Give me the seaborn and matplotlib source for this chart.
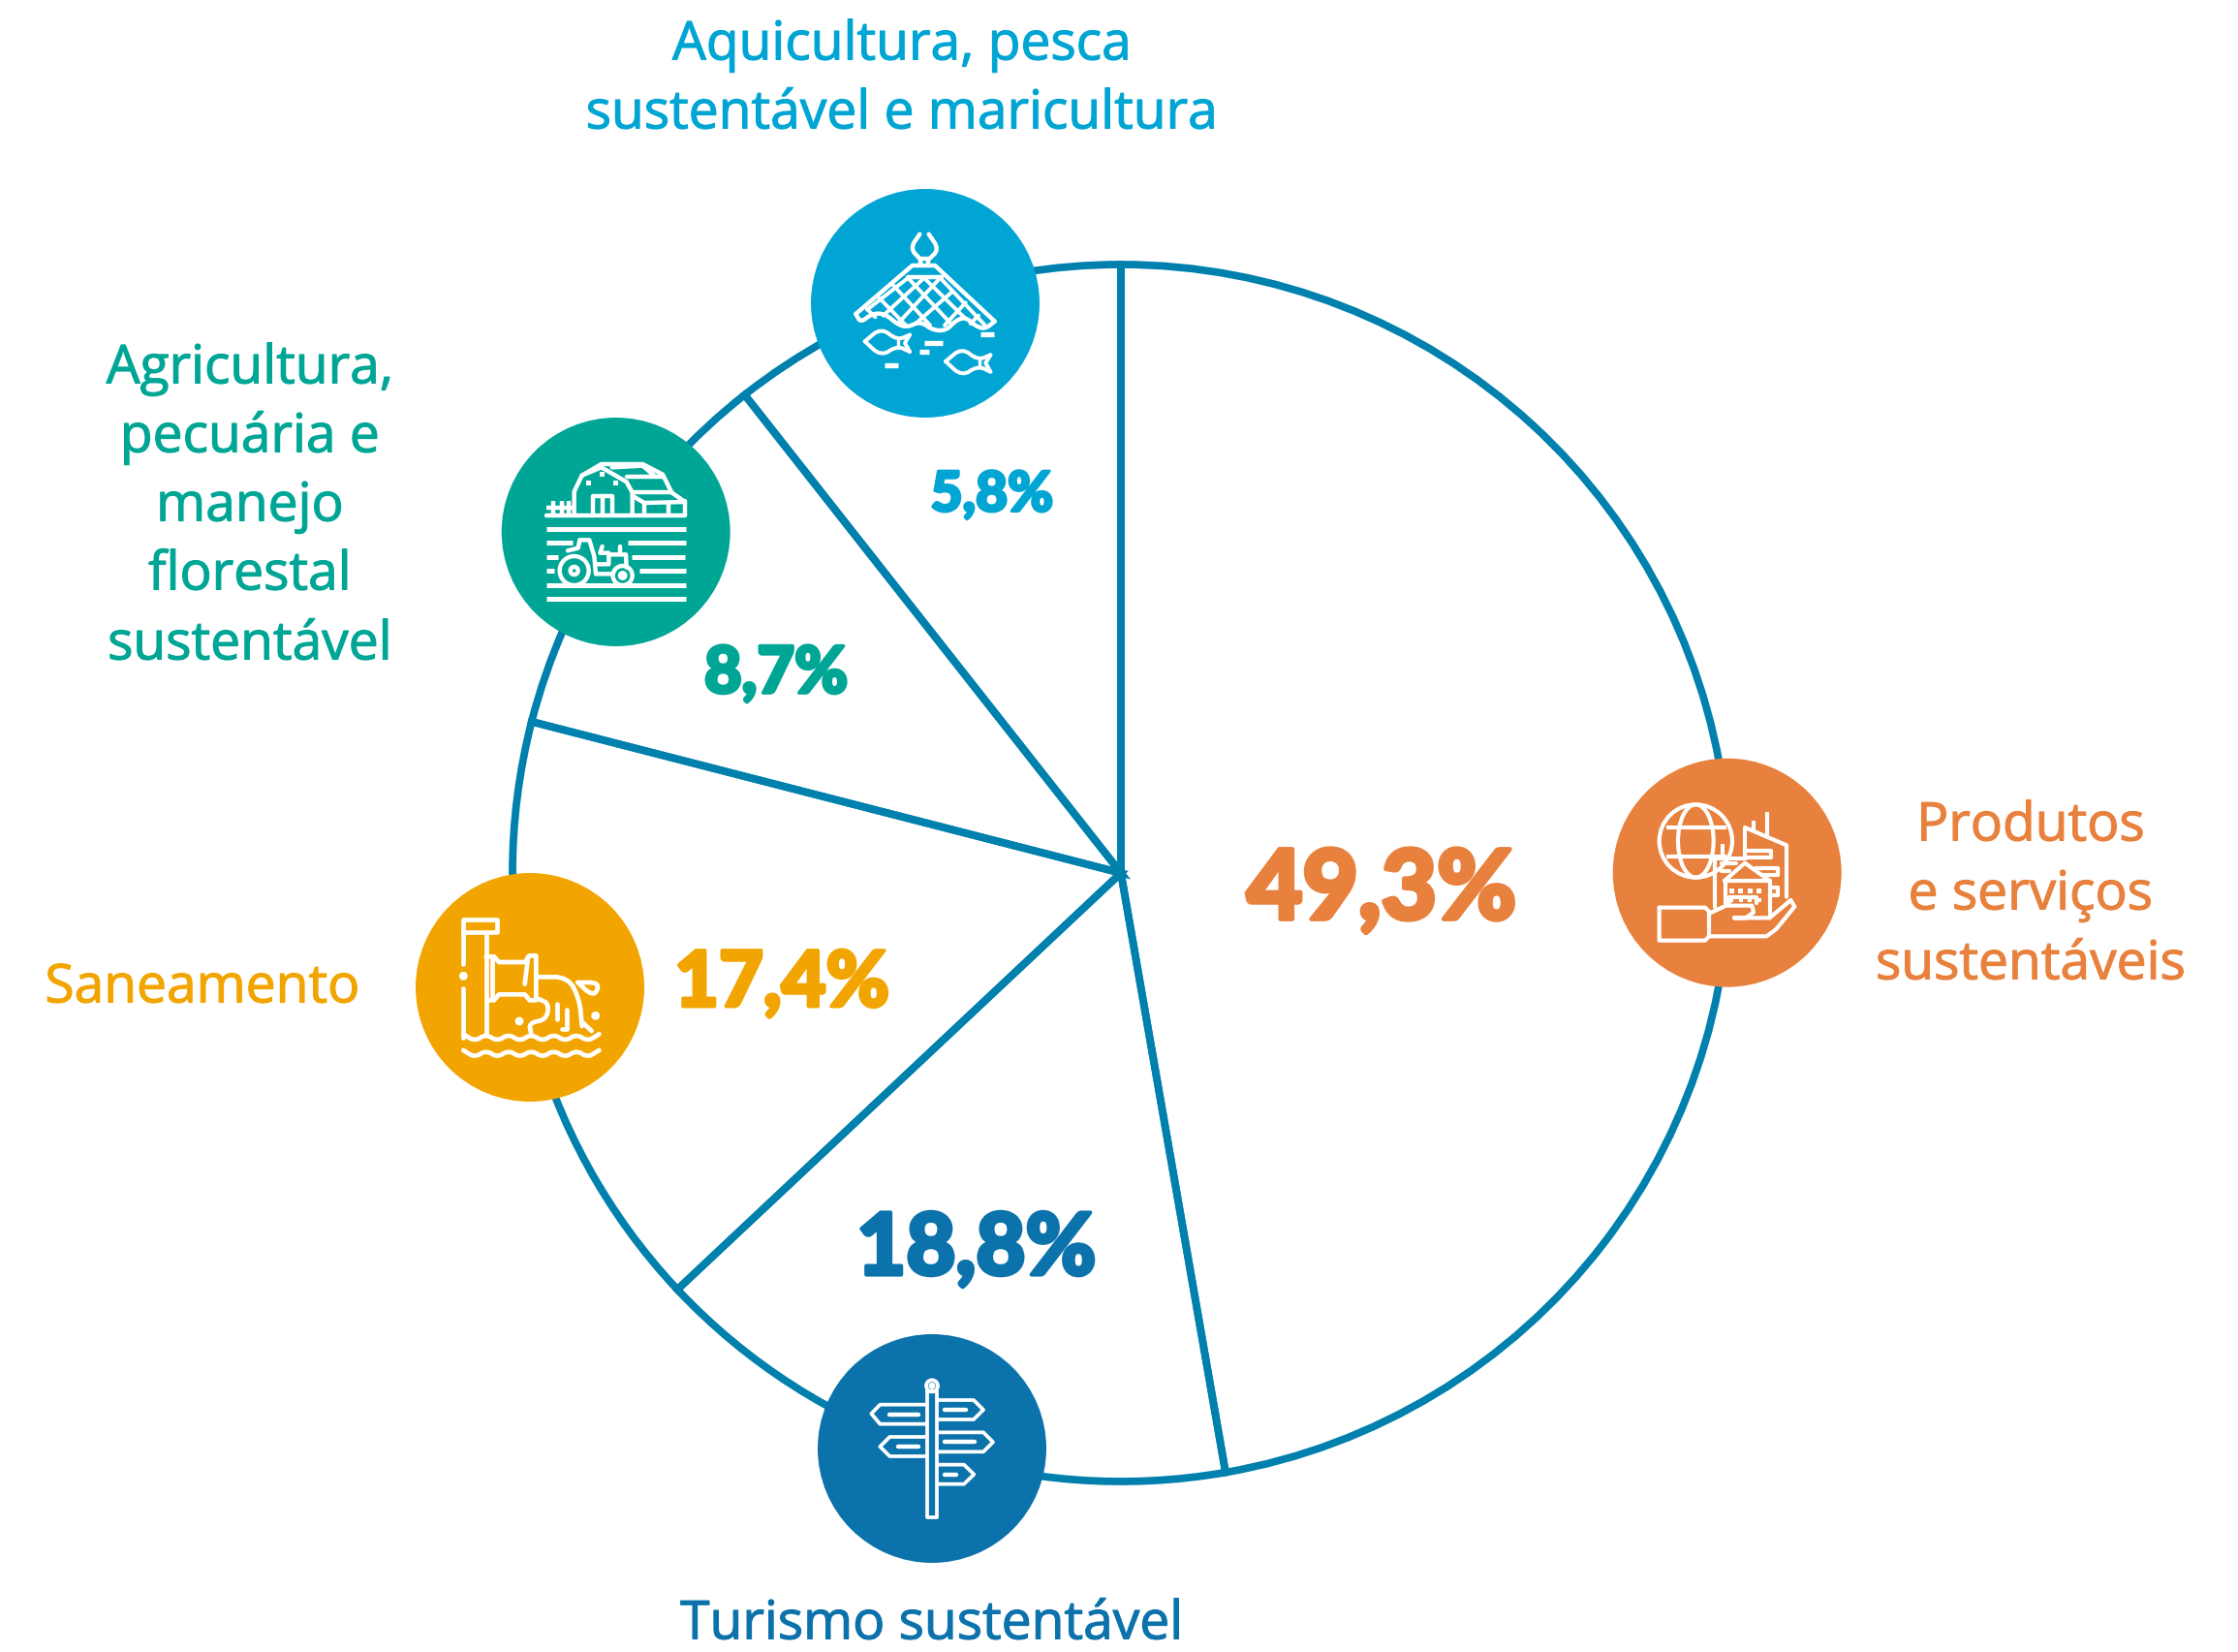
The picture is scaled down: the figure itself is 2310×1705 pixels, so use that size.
import numpy as np
import matplotlib
matplotlib.use("Agg")
import matplotlib.pyplot as plt
import matplotlib.patheffects as pe
from matplotlib.patches import Circle, Ellipse, Rectangle
import seaborn as sns

# ---- data ----
categories = ["Produtos e serviços sustentáveis", "Turismo sustentável", "Saneamento",
              "Agricultura, pecuária e manejo florestal sustentável",
              "Aquicultura, pesca sustentável e maricultura"]
share_labels = ["49,3%", "18,8%", "17,4%", "8,7%", "5,8%"]
# the drawn slices are not proportional to the printed shares: angles (degrees)
slice_degrees = [170.1, 56.7, 57.6, 37.4, 38.2]
colours = ["#E8813D", "#0B72AB", "#F2A500", "#00A695", "#00A5D3"]
ring_colour = "#0080AD"

W, H = 2310, 1706
sns.set_theme(style="white")
sns.set_palette(colours)
plt.rcParams["font.family"] = ["Open Sans", "DejaVu Sans"]

fig = plt.figure(figsize=(W / 100, H / 100), dpi=100, facecolor="white")
ax = fig.add_axes([0, 0, 1, 1])


def Y(py):
    return H - py


ax.pie(slice_degrees, center=(1157, Y(902)), radius=628, startangle=90, counterclock=False,
       colors=["none"] * 5, frame=False,
       wedgeprops=dict(edgecolor=ring_colour, linewidth=5.6, facecolor="none", zorder=1))
ax.set_xlim(0, W)
ax.set_ylim(0, H)
ax.set_aspect("equal")
ax.axis("off")

# ---- badges ----
badges = {"fish": (955, 314), "farm": (635.7, 550), "san": (547, 1020),
          "tour": (962, 1496), "prod": (1782.7, 901.7)}
badge_colour = {"prod": colours[0], "tour": colours[1], "san": colours[2],
                "farm": colours[3], "fish": colours[4]}
for k, (bx, by) in badges.items():
    ax.add_patch(Circle((bx, Y(by)), 118, fc=badge_colour[k], ec="none", zorder=2))


# ---- icon helpers (icon-local coordinates, 3 units = 1 pixel) ----
def chaikin(pts, n=2):
    p = np.asarray(pts, float)
    for _ in range(n):
        q = [p[0]]
        for a, b in zip(p[:-1], p[1:]):
            q += [0.75 * a + 0.25 * b, 0.25 * a + 0.75 * b]
        q.append(p[-1])
        p = np.array(q)
    return p


def make_icon(ox, oy, lw=3.2):
    def T(p):
        p = np.asarray(p, float)
        return ox + p[:, 0] / 3, H - (oy + p[:, 1] / 3)

    def line(*pts, smooth=False, w=lw, cap="round"):
        p = chaikin(pts) if smooth else np.asarray(pts, float)
        x, y = T(p)
        ax.plot(x, y, color="white", lw=w, solid_capstyle=cap, solid_joinstyle="round", zorder=3)

    def circ(cx, cy, r, w=lw, fill=False):
        ax.add_patch(Circle((ox + cx / 3, H - (oy + cy / 3)), r / 3, fc="white" if fill else "none",
                            ec="white", lw=w, zorder=3))

    def sq(cx, cy, s):
        ax.add_patch(Rectangle((ox + (cx - s / 2) / 3, H - (oy + (cy + s / 2) / 3)), s / 3, s / 3,
                               fc="white", ec="none", zorder=3))
    return line, circ, sq


# fishing net
line, circ, sq = make_icon(820, 180)
line((190, 435), (365, 285), (435, 285), (620, 458))
line((620, 458), (590, 482), (560, 472), (530, 445), (500, 455), (470, 486), (430, 486), (390, 458),
     (350, 476), (320, 468), (280, 434), (240, 434), (205, 462), (190, 435), smooth=True)
line((350, 320), (455, 320))
for a, b in [((350, 322), (480, 460)), ((400, 322), (530, 450)), ((450, 322), (590, 470)),
             ((305, 345), (420, 470)), ((262, 385), (345, 470)), ((225, 420), (250, 445)),
             ((450, 325), (320, 465)), ((400, 325), (275, 440)), ((350, 325), (225, 422)),
             ((490, 365), (375, 465)), ((530, 400), (465, 470)), ((570, 440), (545, 465))]:
    line(a, b, w=2.8)
line((388, 188), (358, 232), (392, 268), smooth=True)
line((416, 188), (448, 235), (414, 268), smooth=True)
line((390, 285), (390, 265), (414, 265), (414, 285))
for dx, dy in [(0, 0), (250, 62)]:
    line((218 + dx, 520 + dy), (268 + dx, 478 + dy), (318 + dx, 516 + dy), (357 + dx, 500 + dy), smooth=True, w=2.9)
    line((357 + dx, 500 + dy), (342 + dx, 525 + dy), (357 + dx, 552 + dy), w=2.9)
    line((357 + dx, 552 + dy), (318 + dx, 534 + dy), (268 + dx, 566 + dy), (218 + dx, 520 + dy), smooth=True, w=2.9)
    line((322 + dx, 515 + dy), (322 + dx, 538 + dy), w=2.4)
for a, b, y in [(402, 458, 526), (388, 416, 552), (280, 320, 595), (577, 617, 499)]:
    line((a, y), (b, y), cap="butt", w=3.8)

# farm
line, circ, sq = make_icon(500, 420)
line((192, 340), (620, 340), (620, 295))
for a, b, y in [(192, 623, 382), (192, 272, 424), (445, 623, 424), (192, 228, 468), (457, 620, 468),
                (192, 215, 510), (480, 623, 510), (192, 623, 554), (192, 623, 598)]:
    line((a, y), (b, y), cap="butt", w=3.6)
line((278, 335), (278, 265), (302, 215), (362, 180), (490, 180), (552, 212), (580, 268), (618, 295))
line((302, 215), (362, 190), (440, 235), (458, 268), (458, 335))
line((395, 190), (490, 185), (525, 215))
line((440, 220), (552, 220))
line((458, 268), (580, 268))
line((458, 278), (495, 300), (620, 297))
line((495, 300), (495, 338))
line((570, 300), (570, 338))
line((335, 335), (335, 280), (395, 280), (395, 335))
line((365, 285), (365, 335))
for cx, cy in [(322, 238), (364, 211), (406, 238)]:
    sq(cx, cy, 15)
for x in [212, 240, 262]:
    line((x, 295), (x, 335), cap="butt")
line((192, 314), (278, 314), cap="butt")
circ(278, 510, 45)
circ(278, 510, 12)
circ(428, 525, 30)
circ(428, 525, 8)
line((258, 448), (290, 440), (295, 415), (325, 415), (340, 465), (345, 520), (398, 520))
line((345, 490), (385, 490), (385, 460), (438, 460), (440, 500))
line((420, 435), (420, 460))
line((365, 435), (358, 455), (385, 455))

# sanitation
line, circ, sq = make_icon(410, 890, lw=3.4)
line((205, 218), (205, 180), (310, 180), (310, 218), (205, 218))
line((205, 218), (205, 318))
circ(205, 355, 6, fill=True)
line((205, 392), (205, 545))
line((275, 218), (275, 535))
line((275, 295), (300, 295), (315, 312), (395, 312), (410, 292), (430, 292), (430, 430), (410, 430),
     (395, 412), (315, 412), (300, 430), (280, 430))
line((295, 300), (295, 420))
line((405, 295), (395, 380))
line((435, 358), (530, 358), (565, 430), (572, 510), smooth=True)
line((435, 425), (470, 440), (462, 490), (408, 500), (415, 535), smooth=True)
line((495, 440), (495, 490))
line((525, 460), (525, 520), (510, 520))
line((575, 500), (602, 525))
line((560, 375), (625, 375), (615, 412), (590, 405), (560, 375), smooth=True)
circ(378, 495, 6, fill=True)
circ(614, 478, 6, fill=True)
for base in [545, 595]:
    xs = list(range(205, 626, 35))
    zig = [(x, base + (12 if i % 2 else -10)) for i, x in enumerate(xs)]
    line(*zig, smooth=True)

# signpost
line, circ, sq = make_icon(820, 1360, lw=2.7)
line((412, 230), (412, 620), (440, 620), (440, 230), (412, 230))
circ(426, 214, 18)
circ(426, 214, 5)
for pts in [[(445, 258), (555, 258), (585, 288), (555, 318), (445, 318)],
            [(405, 272), (265, 272), (238, 300), (265, 332), (405, 332)],
            [(445, 358), (585, 358), (615, 388), (585, 418), (445, 418)],
            [(405, 372), (295, 372), (265, 402), (295, 432), (405, 432)],
            [(445, 458), (525, 458), (556, 488), (525, 518), (445, 518)]]:
    line(*pts)
for a, b, y in [(465, 530, 288), (295, 385, 302), (465, 558, 388), (322, 385, 402), (465, 500, 488)]:
    line((a, y), (b, y), w=3.2)

# globe, buildings and hand
line, circ, sq = make_icon(1645, 760, lw=3.0)
circ(316, 327, 113)
ax.add_patch(Ellipse((1645 + 316 / 3, H - (760 + 327 / 3)), 110 / 3, 226 / 3, fc="none", ec="white", lw=3.0, zorder=3))
line((225, 285), (410, 285), cap="butt")
line((225, 375), (410, 375), cap="butt")
line((203, 533), (345, 533), (357, 545), (357, 622), (345, 635), (203, 635), (203, 533))
line((360, 550), (410, 527), (490, 527), (495, 548), (470, 565), (435, 565), (545, 565), (610, 510),
     (622, 530), (565, 600), (535, 622), (360, 622))
line((468, 375), (468, 285), (597, 340), (597, 500))
line((538, 238), (538, 310), cap="butt")
line((495, 265), (495, 295), cap="butt")
line((470, 358), (550, 358), (550, 378), (470, 378))
line((375, 530), (375, 380), (470, 380))
line((400, 335), (400, 378), cap="butt")
line((395, 395), (440, 395))
line((500, 410), (570, 410), (570, 432), (520, 432))
line((395, 420), (420, 420))
line((405, 450), (468, 395), (545, 450), (405, 450))
line((408, 450), (408, 520))
line((545, 450), (545, 560))
line((545, 470), (570, 470), (570, 495), (545, 495))
line((505, 520), (505, 500), (420, 500), (420, 520))
for x in [427, 455, 483, 512]:
    sq(x, 482, 15)
    sq(x, 510, 12)

# ---- text ----
label_font = dict(ha="center", va="center", fontsize=39.7, fontweight=500)
label_lines = [
    ("Aquicultura, pesca", 931, 48, 4), ("sustentável e maricultura", 931, 119, 4),
    ("Agricultura,", 258, 382, 3), ("pecuária e", 258, 453, 3), ("manejo", 258, 524, 3),
    ("florestal", 258, 595, 3), ("sustentável", 258, 667, 3),
    ("Saneamento", 209, 1021, 2), ("Turismo sustentável", 962, 1678, 1),
    ("Produtos", 2096, 854, 0), ("e serviços", 2096, 925, 0), ("sustentáveis", 2096, 997, 0),
]
for txt, x, y, c in label_lines:
    t = ax.text(x, Y(y), txt, color=colours[c], zorder=4, **label_font)
    t.set_path_effects([pe.withStroke(linewidth=0.8, foreground=colours[c])])

share_pos = [(1426, 921), (1008, 1291), (807, 1017), (801, 697), (1024, 512)]
share_size = [71.5, 63.5, 57, 48, 41]
share_stroke = [3.4, 3.0, 2.8, 2.6, 2.2]
for i, s in enumerate(share_labels):
    t = ax.text(share_pos[i][0], Y(share_pos[i][1]), s, color=colours[i], fontsize=share_size[i],
                fontweight=900, ha="center", va="center", family=["Lato", "Open Sans"], zorder=4)
    t.set_path_effects([pe.withStroke(linewidth=share_stroke[i], foreground=colours[i])])

fig.savefig("out.png", dpi=100, facecolor="white")
